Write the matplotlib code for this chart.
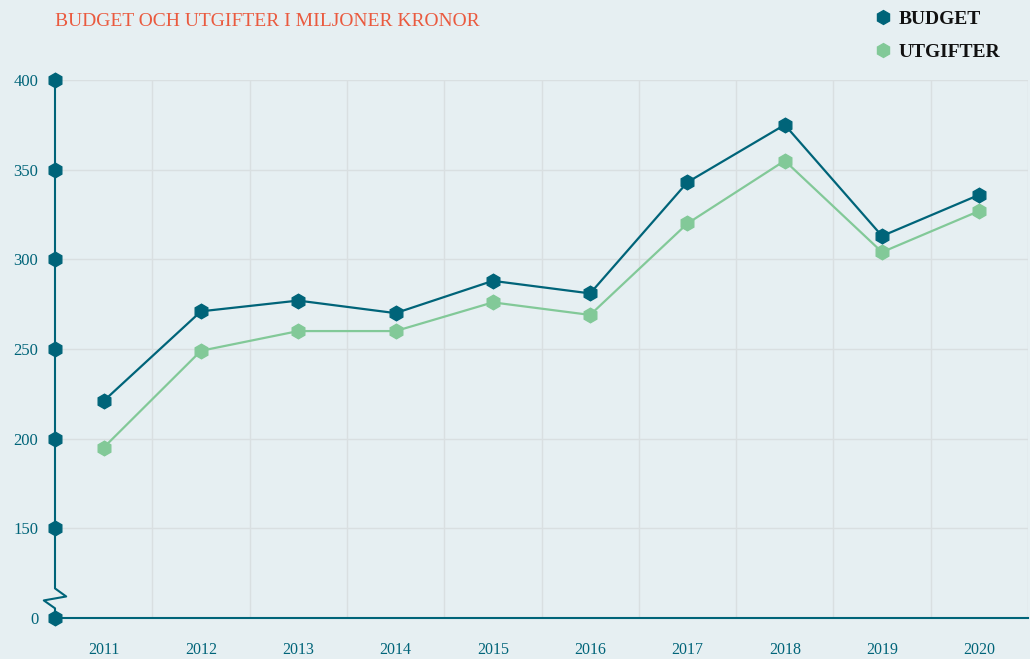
"""
Budget och utgifter i miljoner kronor, 2011-2020
"""

import matplotlib
matplotlib.use('Agg')
import matplotlib.pyplot as plt
from matplotlib.lines import Line2D

# Data
years = ['2011', '2012', '2013', '2014', '2015', '2016', '2017', '2018', '2019', '2020']
budget = [221, 271, 277, 270, 288, 281, 343, 375, 313, 336]
utgifter = [195, 249, 260, 260, 276, 269, 320, 355, 304, 327]

# y axis is broken: real 0 is drawn where 100 would be
y_ticks = [100, 150, 200, 250, 300, 350, 400]
y_labels = ['0', '150', '200', '250', '300', '350', '400']

# Colours
bg = '#E6EFF2'
teal = '#006479'
green = '#82C998'
title_red = '#EA5A3F'
grid_col = '#D9DFE1'

plt.rcParams['font.family'] = ['Liberation Serif', 'DejaVu Serif']

W, H = 1030, 659
fig = plt.figure(figsize=(W / 100, H / 100), dpi=100, facecolor=bg)
ax = fig.add_axes([55 / W, 41 / H, (1028 - 55) / W, (618 - 80) / H])
ax.set_facecolor(bg)

x = list(range(len(years)))
ax.plot(x, utgifter, color=green, lw=1.6, marker='h', ms=10.5, zorder=3, clip_on=False)
ax.plot(x, budget, color=teal, lw=1.6, marker='h', ms=10.5, zorder=4, clip_on=False)

ax.set_xlim(-0.5, len(years) - 0.5)
ax.set_ylim(100, 400)

# Gridlines: horizontal at ticks, vertical at band edges
for t in y_ticks[1:]:
    ax.axhline(t, color=grid_col, lw=1, zorder=1)
for i in range(1, len(years) + 1):
    ax.axvline(i - 0.5, color=grid_col, lw=1, zorder=1)

ax.set_xticks(x)
ax.set_xticklabels(years)
ax.set_yticks(y_ticks)
ax.set_yticklabels(y_labels)
ax.tick_params(axis='x', length=0, pad=17, labelsize=11.5, colors=teal)
ax.tick_params(axis='y', length=0, pad=12, labelsize=12, colors=teal)

for s in ['top', 'right', 'left']:
    ax.spines[s].set_visible(False)
ax.spines['bottom'].set_color(teal)
ax.spines['bottom'].set_linewidth(1.5)
ax.spines['bottom'].set_bounds(-0.5, len(years) - 0.5)

# Left axis with a zigzag break between 0 and 150
x0 = -0.5
dx = 0.115
brk_x = [x0, x0, x0 + dx, x0 - dx, x0, x0]
brk_y = [400, 116.5, 112.0, 109.8, 105.4, 100]
ax.plot(brk_x, brk_y, color=teal, lw=1.5, clip_on=False, zorder=5)
ax.plot([x0] * len(y_ticks), y_ticks, 'h', color=teal, ms=10.5, clip_on=False, zorder=6)

# Title
fig.text(55 / W, 1 - 21 / H, 'BUDGET OCH UTGIFTER I MILJONER KRONOR',
         color=title_red, fontsize=14, ha='left', va='center')

# Legend
handles = [Line2D([], [], ls='none', marker='h', ms=10, color=teal),
           Line2D([], [], ls='none', marker='h', ms=10, color=green)]
leg = fig.legend(handles, ['BUDGET', 'UTGIFTER'], loc='upper left',
                 bbox_to_anchor=(877 / W, 1 - 10 / H), frameon=False,
                 prop={'size': 14, 'weight': 'bold'}, handlelength=0.6,
                 handletextpad=0.5, labelspacing=0.8, borderpad=0,
                 borderaxespad=0)
for t in leg.get_texts():
    t.set_color('#111111')

fig.savefig('out.png', dpi=100, facecolor=bg)
